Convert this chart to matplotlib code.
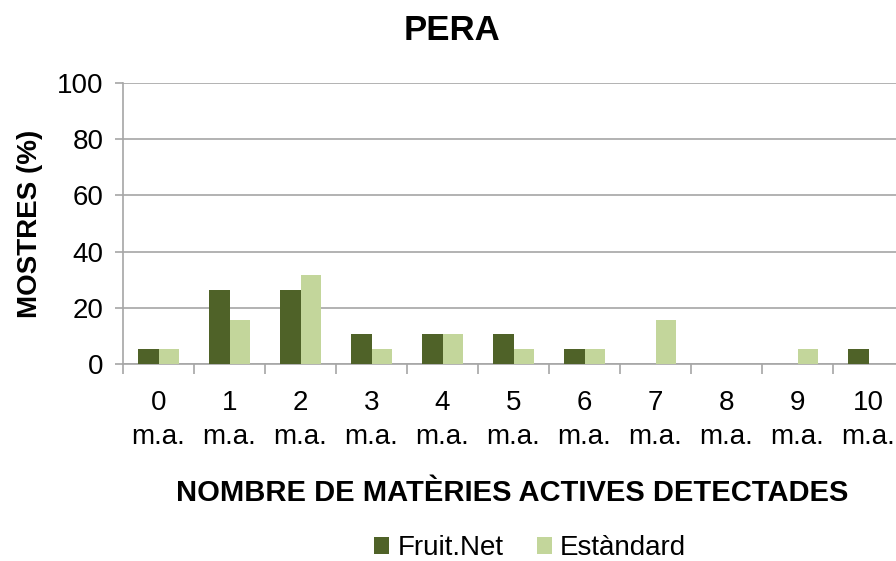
import matplotlib

matplotlib.use("Agg")
import matplotlib.pyplot as plt
import numpy as np

plt.rcParams["font.family"] = ["Liberation Sans", "DejaVu Sans"]

categories = ["0\nm.a.", "1\nm.a.", "2\nm.a.", "3\nm.a.", "4\nm.a.", "5\nm.a.",
              "6\nm.a.", "7\nm.a.", "8\nm.a.", "9\nm.a.", "10\nm.a."]
fruit_net = [5.26, 26.32, 26.32, 10.53, 10.53, 10.53, 5.26, 0, 0, 0, 5.26]
estandard = [5.26, 15.79, 31.58, 5.26, 10.53, 5.26, 5.26, 15.79, 0, 5.26, 0]

DARK = "#4F6228"
LIGHT = "#C3D69B"
GRID = "#A6A6A6"

fig = plt.figure(figsize=(8.96, 5.61), dpi=100)
ax = fig.add_axes([123 / 896, 1 - 364 / 561, 781 / 896, 281 / 561])

x = np.arange(len(categories))
w = 0.29
ax.bar(x - w / 2, fruit_net, w, color=DARK, label="Fruit.Net", zorder=3)
ax.bar(x + w / 2, estandard, w, color=LIGHT, label="Estàndard", zorder=3)

ax.set_xlim(-0.5, len(categories) - 0.5)
ax.set_ylim(0, 100)
ax.set_yticks(range(0, 101, 20))
ax.yaxis.grid(True, color=GRID, linewidth=1.2, zorder=0)

ax.set_xticks(x)
ax.set_xticklabels(categories, fontsize=20, linespacing=1.4)
ax.set_xticks(np.arange(-0.5, len(categories), 1), minor=True)
ax.tick_params(axis="x", which="major", length=0, pad=19)
ax.tick_params(axis="x", which="minor", length=7, color=GRID, width=1.2)
ax.tick_params(axis="y", length=6, color=GRID, width=1.2, labelsize=20, pad=8)

for side in ["top", "right"]:
    ax.spines[side].set_visible(False)
for side in ["left", "bottom"]:
    ax.spines[side].set_color(GRID)
    ax.spines[side].set_linewidth(1.2)

ax.set_ylabel("MOSTRES (%)", fontsize=20, fontweight="bold")
ax.yaxis.set_label_coords(-80 / 781, 0.5)
fig.text(512 / 896, 1 - 493 / 561, "NOMBRE DE MATÈRIES ACTIVES DETECTADES",
         ha="center", va="center", fontsize=21, fontweight="bold")
fig.text(452 / 896, 1 - 30 / 561, "PERA", ha="center", va="center",
         fontsize=25, fontweight="bold")

fig.legend(loc="center", bbox_to_anchor=(530 / 896, 1 - 548 / 561), ncol=2,
           frameon=False, fontsize=20, handlelength=0.55, handleheight=0.55,
           handletextpad=0.3, columnspacing=1.2)

fig.savefig("out.png", dpi=100)
